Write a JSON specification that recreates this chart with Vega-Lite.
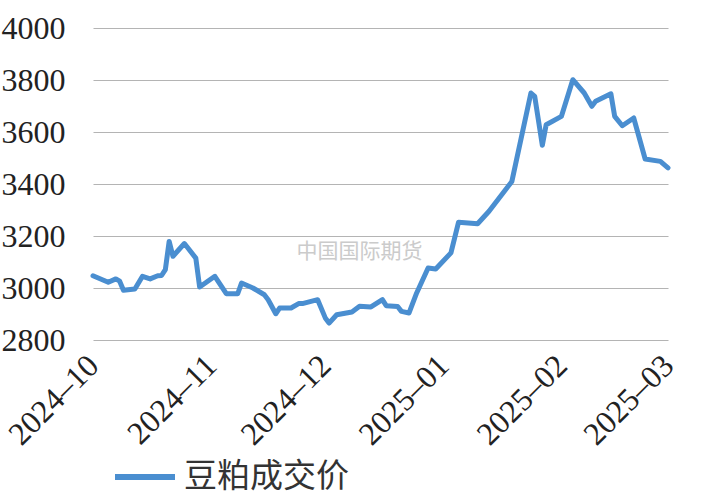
{
  "$schema": "https://vega.github.io/schema/vega-lite/v6.json",
  "width": 575,
  "height": 312,
  "autosize": "none",
  "padding": {"left": 93, "top": 28, "right": 40, "bottom": 160},
  "background": "white",
  "config": {"view": {"stroke": null}},
  "datasets": {
    "price": [
      {"date": "2024-10-01", "series": "豆粕成交价", "value": 3047},
      {"date": "2024-10-05", "series": "豆粕成交价", "value": 3022},
      {"date": "2024-10-07", "series": "豆粕成交价", "value": 3035},
      {"date": "2024-10-08", "series": "豆粕成交价", "value": 3026},
      {"date": "2024-10-09", "series": "豆粕成交价", "value": 2991},
      {"date": "2024-10-12", "series": "豆粕成交价", "value": 2996},
      {"date": "2024-10-14", "series": "豆粕成交价", "value": 3045},
      {"date": "2024-10-16", "series": "豆粕成交价", "value": 3035},
      {"date": "2024-10-18", "series": "豆粕成交价", "value": 3047},
      {"date": "2024-10-19", "series": "豆粕成交价", "value": 3048},
      {"date": "2024-10-20", "series": "豆粕成交价", "value": 3071},
      {"date": "2024-10-21", "series": "豆粕成交价", "value": 3179},
      {"date": "2024-10-22", "series": "豆粕成交价", "value": 3122},
      {"date": "2024-10-25", "series": "豆粕成交价", "value": 3171},
      {"date": "2024-10-28", "series": "豆粕成交价", "value": 3115},
      {"date": "2024-10-29", "series": "豆粕成交价", "value": 3004},
      {"date": "2024-11-02", "series": "豆粕成交价", "value": 3045},
      {"date": "2024-11-05", "series": "豆粕成交价", "value": 2978},
      {"date": "2024-11-08", "series": "豆粕成交价", "value": 2978},
      {"date": "2024-11-09", "series": "豆粕成交价", "value": 3019},
      {"date": "2024-11-12", "series": "豆粕成交价", "value": 3000},
      {"date": "2024-11-15", "series": "豆粕成交价", "value": 2974},
      {"date": "2024-11-16", "series": "豆粕成交价", "value": 2955},
      {"date": "2024-11-18", "series": "豆粕成交价", "value": 2901},
      {"date": "2024-11-19", "series": "豆粕成交价", "value": 2923},
      {"date": "2024-11-22", "series": "豆粕成交价", "value": 2923},
      {"date": "2024-11-24", "series": "豆粕成交价", "value": 2940},
      {"date": "2024-11-25", "series": "豆粕成交价", "value": 2940},
      {"date": "2024-11-29", "series": "豆粕成交价", "value": 2955},
      {"date": "2024-12-01", "series": "豆粕成交价", "value": 2885},
      {"date": "2024-12-02", "series": "豆粕成交价", "value": 2865},
      {"date": "2024-12-04", "series": "豆粕成交价", "value": 2897},
      {"date": "2024-12-08", "series": "豆粕成交价", "value": 2908},
      {"date": "2024-12-10", "series": "豆粕成交价", "value": 2930},
      {"date": "2024-12-13", "series": "豆粕成交价", "value": 2927},
      {"date": "2024-12-16", "series": "豆粕成交价", "value": 2955},
      {"date": "2024-12-17", "series": "豆粕成交价", "value": 2932},
      {"date": "2024-12-20", "series": "豆粕成交价", "value": 2929},
      {"date": "2024-12-21", "series": "豆粕成交价", "value": 2910},
      {"date": "2024-12-23", "series": "豆粕成交价", "value": 2904},
      {"date": "2024-12-25", "series": "豆粕成交价", "value": 2981},
      {"date": "2024-12-28", "series": "豆粕成交价", "value": 3077},
      {"date": "2024-12-30", "series": "豆粕成交价", "value": 3073},
      {"date": "2025-01-03", "series": "豆粕成交价", "value": 3135},
      {"date": "2025-01-05", "series": "豆粕成交价", "value": 3253},
      {"date": "2025-01-10", "series": "豆粕成交价", "value": 3247},
      {"date": "2025-01-13", "series": "豆粕成交价", "value": 3295},
      {"date": "2025-01-19", "series": "豆粕成交价", "value": 3410},
      {"date": "2025-01-24", "series": "豆粕成交价", "value": 3750},
      {"date": "2025-01-25", "series": "豆粕成交价", "value": 3737},
      {"date": "2025-01-27", "series": "豆粕成交价", "value": 3549},
      {"date": "2025-01-28", "series": "豆粕成交价", "value": 3628},
      {"date": "2025-02-01", "series": "豆粕成交价", "value": 3660},
      {"date": "2025-02-04", "series": "豆粕成交价", "value": 3801},
      {"date": "2025-02-07", "series": "豆粕成交价", "value": 3750},
      {"date": "2025-02-09", "series": "豆粕成交价", "value": 3699},
      {"date": "2025-02-10", "series": "豆粕成交价", "value": 3718},
      {"date": "2025-02-14", "series": "豆粕成交价", "value": 3747},
      {"date": "2025-02-15", "series": "豆粕成交价", "value": 3660},
      {"date": "2025-02-17", "series": "豆粕成交价", "value": 3624},
      {"date": "2025-02-20", "series": "豆粕成交价", "value": 3654},
      {"date": "2025-02-23", "series": "豆粕成交价", "value": 3496},
      {"date": "2025-02-27", "series": "豆粕成交价", "value": 3487},
      {"date": "2025-03-01", "series": "豆粕成交价", "value": 3462}
    ],
    "mark": [
      {"date": "2024-12-10", "value": 3140, "label": "中国国际期货"}
    ]
  },
  "layer": [
    {
      "data": {"name": "mark"},
      "mark": {"type": "text", "font": "Noto Sans CJK SC", "fontSize": 21, "color": "#cbcbcb", "align": "center", "baseline": "middle"},
      "encoding": {
        "x": {"field": "date", "type": "temporal", "scale": {"type": "utc", "domain": [{"year": 2024, "month": 10, "date": 1, "utc": true}, {"year": 2025, "month": 3, "date": 1, "utc": true}]}},
        "y": {"field": "value", "type": "quantitative"},
        "text": {"field": "label"}
      }
    },
    {
      "data": {"name": "price"},
      "mark": {"type": "line", "strokeWidth": 5, "strokeJoin": "round", "strokeCap": "round"},
      "encoding": {
        "x": {
          "field": "date",
          "type": "temporal",
          "scale": {"type": "utc", "domain": [{"year": 2024, "month": 10, "date": 1, "utc": true}, {"year": 2025, "month": 3, "date": 1, "utc": true}]},
          "axis": {
            "title": null,
            "values": [
              {"year": 2024, "month": 10, "date": 1, "utc": true},
              {"year": 2024, "month": 11, "date": 1, "utc": true},
              {"year": 2024, "month": 12, "date": 1, "utc": true},
              {"year": 2025, "month": 1, "date": 1, "utc": true},
              {"year": 2025, "month": 2, "date": 1, "utc": true},
              {"year": 2025, "month": 3, "date": 1, "utc": true}
            ],
            "format": "%Y–%m",
            "labelAngle": -45,
            "labelAlign": "right",
            "labelBaseline": "middle",
            "labelFont": "Liberation Serif",
            "labelFontSize": 32,
            "labelColor": "#222",
            "labelPadding": 20,
            "labelOverlap": false,
            "labelFlush": false,
            "ticks": false,
            "domain": false,
            "grid": false
          }
        },
        "y": {
          "field": "value",
          "type": "quantitative",
          "scale": {"domain": [2800, 4000], "nice": false, "zero": false},
          "axis": {
            "title": null,
            "values": [2800, 3000, 3200, 3400, 3600, 3800, 4000],
            "format": "d",
            "labelFont": "Liberation Serif",
            "labelFontSize": 32,
            "labelColor": "#222",
            "labelPadding": 28,
            "ticks": false,
            "domain": false,
            "grid": true,
            "gridColor": "#b4b4b4",
            "gridWidth": 1.2
          }
        },
        "color": {
          "field": "series",
          "type": "nominal",
          "scale": {"range": ["#4a8ed0"]},
          "legend": {
            "title": null,
            "orient": "none",
            "legendX": 19,
            "legendY": 416,
            "symbolType": "stroke",
            "symbolSize": 3600,
            "symbolStrokeWidth": 6,
            "labelFont": "Noto Sans CJK SC",
            "labelFontSize": 33,
            "labelLimit": 400,
            "labelColor": "#333",
            "labelOffset": 6
          }
        }
      }
    }
  ]
}
